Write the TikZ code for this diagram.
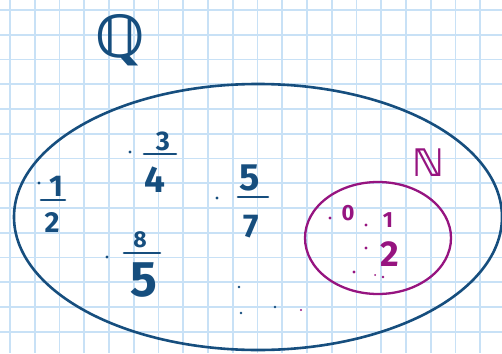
\documentclass[tikz,border=0pt]{standalone}
\usepackage{fontspec}
\newfontfamily\hand{Fira Sans}
\newfontfamily\dejavu{DejaVu Sans}
\definecolor{inkblue}{RGB}{22,78,126}
\definecolor{inkpurple}{RGB}{150,20,128}
\definecolor{gridblue}{RGB}{200,225,246}
\tikzset{
  gridline/.style={draw=gridblue,line width=1.8pt},
  setline/.style={draw=inkblue,line width=2.6pt},
  subsetline/.style={draw=inkpurple,line width=2.3pt},
  barline/.style={draw=inkblue,line width=2.6pt,line cap=round},
  bluept/.style={circle,fill=inkblue,inner sep=0pt,minimum size=3.2pt},
  purplept/.style={circle,fill=inkpurple,inner sep=0pt,minimum size=3.2pt},
  bluedigit/.style={text=inkblue,inner sep=0pt,font=\hand\bfseries\fontsize{#1}{#1}\selectfont},
  purpledigit/.style={text=inkpurple,inner sep=0pt,font=\hand\bfseries\fontsize{#1}{#1}\selectfont},
}
\begin{document}
\begin{tikzpicture}[x=1pt,y=-1pt]
\useasboundingbox (0,0) rectangle (502,353);
\fill[white] (0,0) rectangle (502,353);
% grid paper
\foreach \k in {0,...,20} {
  \draw[gridline] ({10+24.75*\k},0) -- ({10+24.75*\k},353);
}
\foreach \k in {0,...,14} {
  \draw[gridline] (0,{10+24.75*\k}) -- (502,{10+24.75*\k});
}
% big set
\draw[setline] (258,217) ellipse [x radius=244pt, y radius=133pt];
\node[text=inkblue,inner sep=0pt,font=\dejavu\bfseries\fontsize{58}{60}\selectfont] (qlabel) at (120,40) {ℚ};
% fraction 1/2
\node[bluept] (p12) at (39,183) {};
\node[bluedigit=30] (n12) at (56,186) {1};
\draw[barline] (41,200) -- (65,200);
\node[bluedigit=29] (d12) at (52,222) {2};
% fraction 3/4
\node[bluept] (p34) at (130,152) {};
\node[bluedigit=27] (n34) at (163,141) {3};
\draw[barline] (144,154) -- (176,154);
\node[bluedigit=37] (d34) at (155,180) {4};
% fraction 5/7
\node[bluept] (p57) at (217,198) {};
\node[bluedigit=38] (n57) at (250,178) {5};
\draw[barline] (238,197) -- (268,197);
\node[bluedigit=33] (d57) at (251,227) {7};
% fraction 8/5
\node[bluept] (p85) at (107,257) {};
\node[bluedigit=23] (n85) at (140,240) {8};
\draw[barline] (124,253) -- (160,253);
\node[bluedigit=50] (d85) at (144,280) {5};
% stray marks
\node[bluept,minimum size=2.8pt] (m1) at (239,287) {};
\node[bluept,minimum size=2.8pt] (m2) at (241,313) {};
\node[bluept,minimum size=2.8pt] (m3) at (275,307) {};
\node[purplept,minimum size=2.4pt] (m4) at (301,310) {};
% natural numbers
\draw[subsetline] (378,238) ellipse [x radius=73pt, y radius=56pt];
\node[text=inkpurple,inner sep=0pt,font=\dejavu\bfseries\fontsize{38}{40}\selectfont] (nlabel) at (428,163) {ℕ};
\node[purplept] (p0) at (330,218) {};
\node[purpledigit=22] (n0) at (348,213) {0};
\node[purplept] (p1) at (366,225) {};
\node[purpledigit=22] (n1) at (388,220) {1};
\node[purplept] (p2) at (366,248) {};
\node[purpledigit=36] (n2) at (390,254) {2};
\node[purplept] (d1) at (354,272) {};
\node[purplept,minimum size=2pt] (d2) at (375,275) {};
\node[purplept,minimum size=2.6pt] (d3) at (383,277) {};
\end{tikzpicture}
\end{document}
